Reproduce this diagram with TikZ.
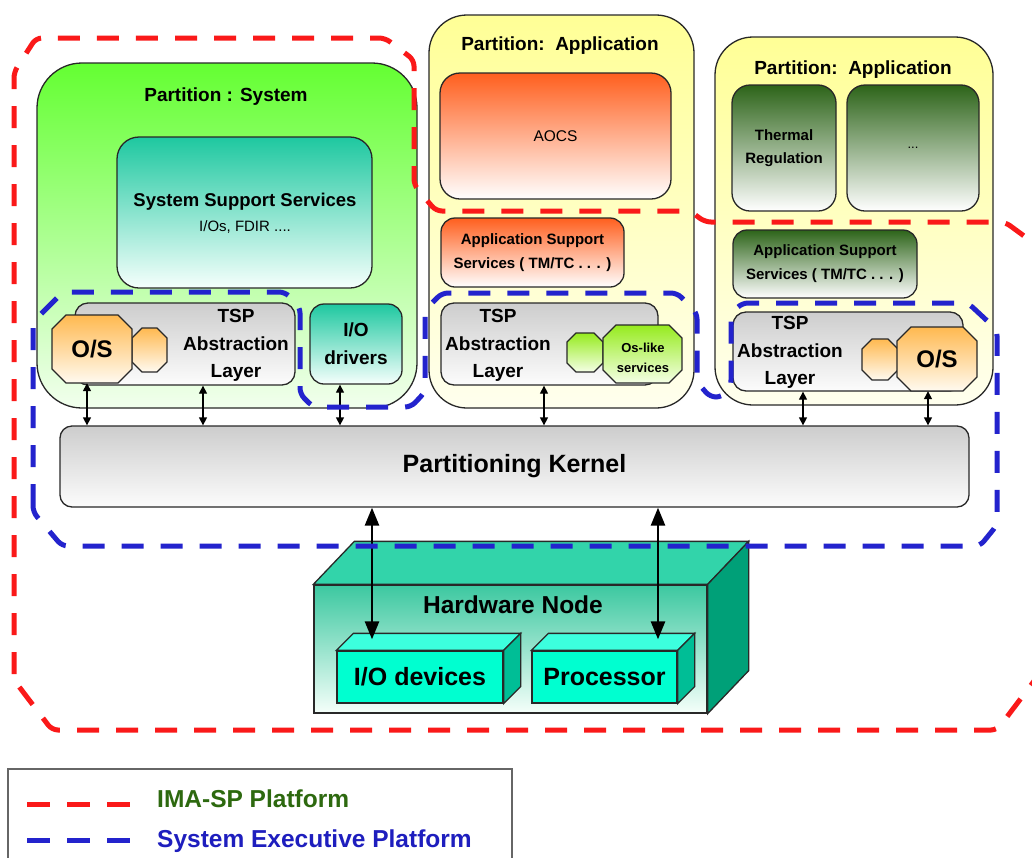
\documentclass[tikz,border=0pt]{standalone}
\usepackage{fontspec}
\setmainfont{Liberation Sans}
\usetikzlibrary{arrows.meta,calc}
\definecolor{imared}{RGB}{250,25,25}
\definecolor{seblue}{RGB}{35,35,205}
\definecolor{imatxt}{RGB}{45,105,15}
\definecolor{setxt}{RGB}{30,30,190}
\definecolor{sysT}{RGB}{100,255,50}
\definecolor{sysB}{RGB}{242,255,238}
\definecolor{yelT}{RGB}{255,255,150}
\definecolor{yelB}{RGB}{255,255,238}
\definecolor{tealT}{RGB}{30,200,160}
\definecolor{tealB}{RGB}{245,255,252}
\definecolor{greyT}{RGB}{205,205,205}
\definecolor{greyB}{RGB}{252,252,252}
\definecolor{osT}{RGB}{255,185,80}
\definecolor{osB}{RGB}{255,250,240}
\definecolor{aocsT}{RGB}{255,95,30}
\definecolor{oslT}{RGB}{150,235,30}
\definecolor{oslB}{RGB}{245,255,230}
\definecolor{dkgT}{RGB}{45,100,25}
\definecolor{hwT}{RGB}{60,200,160}
\definecolor{hwB}{RGB}{245,255,250}
\definecolor{hwtop}{RGB}{50,212,170}
\definecolor{hwright}{RGB}{0,160,120}
\definecolor{devfront}{RGB}{0,255,208}
\definecolor{devtop}{RGB}{60,255,222}
\definecolor{devright}{RGB}{0,190,150}
\definecolor{edge}{RGB}{40,40,40}
\newcommand\myoct[6]{\path[#6] (#1+#5,#2) -- (#3-#5,#2) -- (#3,#2+#5) -- (#3,#4-#5) -- (#3-#5,#4) -- (#1+#5,#4) -- (#1,#4-#5) -- (#1,#2+#5) -- cycle;}
\tikzset{
  bx/.style={draw=edge, line width=1.3pt, inner sep=0pt},
  sysbox/.style={bx, top color=sysT, bottom color=sysB},
  yelbox/.style={bx, top color=yelT, bottom color=yelB},
  tealbox/.style={bx, top color=tealT, bottom color=tealB},
  greybox/.style={bx, top color=greyT, bottom color=greyB, rounded corners=13pt},
  orbox/.style={bx, top color=aocsT, bottom color=white},
  dgbox/.style={bx, top color=dkgT, bottom color=white},
  osshape/.style={draw=edge, line width=1.2pt, top color=osT, bottom color=osB},
  oslshape/.style={draw=edge, line width=1.2pt, top color=oslT, bottom color=oslB},
  ttl/.style={font=\fontsize{19}{22}\selectfont\bfseries},
  tsptxt/.style={font=\fontsize{19}{27.5}\selectfont\bfseries, align=center, inner sep=0pt},
  asstxt/.style={font=\fontsize{15}{24}\selectfont\bfseries, align=center},
  sarr/.style={line width=1.3pt, draw=black, {Triangle[length=8pt,width=8pt]}-{Triangle[length=8pt,width=8pt]}},
  barr/.style={line width=2.6pt, draw=black, {Triangle[length=18pt,width=14pt]}-{Triangle[length=18pt,width=14pt]}},
  imadash/.style={draw=imared, line width=5pt, dash pattern=on 22pt off 17pt, rounded corners=6pt},
  sedash/.style={draw=seblue, line width=5pt, dash pattern=on 22pt off 17pt, rounded corners=6pt},
  legdash/.style={line width=5pt, dash pattern=on 23pt off 17pt},
  legtxt/.style={anchor=west, font=\fontsize{24.5}{28}\selectfont\bfseries, inner sep=0pt},
}
\begin{document}
\begin{tikzpicture}[x=1pt,y=-1pt]
\useasboundingbox (0,0) rectangle (1032,857);
\fill[white] (0,0) rectangle (1032,857);
\clip (0,0) rectangle (1032,857);

% ---------- partitions ----------
\node[sysbox, rounded corners=45pt, minimum width=380pt, minimum height=345pt] (psys) at (227,235.5) {};
\node[yelbox, rounded corners=38pt, minimum width=265pt, minimum height=393pt] (papp1) at (561.5,211.5) {};
\node[yelbox, rounded corners=38pt, minimum width=278pt, minimum height=368pt] (papp2) at (854,221) {};
\node[ttl] (tsys) at (226,97) {Partition : System};
\node[ttl] (tapp1) at (560,46) {Partition:~~Application};
\node[ttl] (tapp2) at (853,70) {Partition:~~Application};

% ---------- system partition content ----------
\node[tealbox, rounded corners=22pt, minimum width=255pt, minimum height=151pt] (sss) at (244.5,212.5) {};
\node[font=\fontsize{18.5}{22}\selectfont\bfseries] (ssst) at (245,202) {System Support Services};
\node[font=\fontsize{15}{18}\selectfont] (sssub) at (245,227) {I/Os, FDIR ....};
\node[greybox, minimum width=220pt, minimum height=82pt] (tsp1) at (185,344) {};
\myoct{132}{328}{167}{372}{10}{osshape}
\myoct{52}{315}{132}{383}{14}{osshape}
\node[font=\fontsize{24}{28}\selectfont\bfseries, minimum width=80pt, minimum height=68pt, inner sep=0pt] (os1) at (92,349) {O/S};
\node[tsptxt] (tsp1t) at (236,345.5) {TSP\\Abstraction\\Layer};
\node[tealbox, rounded corners=14pt, minimum width=92pt, minimum height=80pt, font=\fontsize{19}{28}\selectfont\bfseries, align=center] (iodrv) at (356,344) {I/O\\drivers};

% ---------- application partition 1 ----------
\node[orbox, rounded corners=20pt, minimum width=231pt, minimum height=126pt, font=\fontsize{15.5}{18}\selectfont] (aocs) at (555.5,136) {AOCS};
\node[orbox, rounded corners=14pt, minimum width=183pt, minimum height=69pt, asstxt] (ass1) at (532.5,252.5) {Application Support\\Services ( TM/TC . . . )};
\node[greybox, minimum width=217pt, minimum height=82pt] (tsp2) at (549.5,344) {};
\node[tsptxt] (tsp2t) at (498,345.5) {TSP\\Abstraction\\Layer};
\myoct{567}{333}{603}{372}{9}{oslshape}
\myoct{603}{325}{682}{383}{13}{oslshape}
\node[font=\fontsize{13}{20}\selectfont\bfseries, align=center, inner sep=0pt] (oslike) at (643,358) {Os-like\\services};

% ---------- application partition 2 ----------
\node[dgbox, rounded corners=18pt, minimum width=104pt, minimum height=126pt, font=\fontsize{15}{23}\selectfont\bfseries, align=center] (therm) at (784,148) {Thermal\\Regulation};
\node[dgbox, rounded corners=18pt, minimum width=132pt, minimum height=126pt, font=\fontsize{13}{16}\selectfont] (dots) at (913,148) {...};
\node[dgbox, rounded corners=14pt, minimum width=184pt, minimum height=68pt, asstxt] (ass2) at (825,264) {Application Support\\Services ( TM/TC . . . )};
\node[greybox, minimum width=230pt, minimum height=79pt] (tsp3) at (848,351.5) {};
\node[tsptxt] (tsp3t) at (790,352.5) {TSP\\Abstraction\\Layer};
\myoct{862}{339}{898}{380}{10}{osshape}
\myoct{897}{327}{977}{391}{14}{osshape}
\node[font=\fontsize{24}{28}\selectfont\bfseries, minimum width=80pt, minimum height=64pt, inner sep=0pt] (os3) at (937,359) {O/S};

% ---------- kernel ----------
\node[greybox, rounded corners=12pt, minimum width=909pt, minimum height=81pt, font=\fontsize{25}{30}\selectfont\bfseries] (kernel) at (514.5,466.5) {Partitioning Kernel};

% ---------- hardware node ----------
\node[bx, top color=hwT, bottom color=hwB, minimum width=393pt, minimum height=128pt] (hw) at (510.5,649) {};
\path[draw=edge, line width=1.3pt, fill=hwtop] (hw.north west) -- ++(41pt,43pt) -- ([shift={(41pt,43pt)}]hw.north east) -- (hw.north east) -- cycle;
\path[draw=edge, line width=1.3pt, fill=hwright] (hw.north east) -- ++(41pt,43pt) -- ([shift={(41pt,43pt)}]hw.south east) -- (hw.south east) -- cycle;
\node[font=\fontsize{24.5}{28}\selectfont\bfseries] (hwt) at (513,605) {Hardware Node};

\node[bx, fill=devfront, minimum width=166pt, minimum height=52pt, font=\fontsize{25}{28}\selectfont\bfseries] (iodev) at (420,677) {I/O devices};
\path[draw=edge, line width=1.3pt, fill=devtop] (iodev.north west) -- ++(17pt,17pt) -- ([shift={(17pt,17pt)}]iodev.north east) -- (iodev.north east) -- cycle;
\path[draw=edge, line width=1.3pt, fill=devright] (iodev.north east) -- ++(17pt,17pt) -- ([shift={(17pt,17pt)}]iodev.south east) -- (iodev.south east) -- cycle;

\node[bx, fill=devfront, minimum width=145pt, minimum height=52pt, font=\fontsize{25}{28}\selectfont\bfseries] (proc) at (604.5,677) {Processor};
\path[draw=edge, line width=1.3pt, fill=devtop] (proc.north west) -- ++(17pt,17pt) -- ([shift={(17pt,17pt)}]proc.north east) -- (proc.north east) -- cycle;
\path[draw=edge, line width=1.3pt, fill=devright] (proc.north east) -- ++(17pt,17pt) -- ([shift={(17pt,17pt)}]proc.south east) -- (proc.south east) -- cycle;

% ---------- arrows ----------
\draw[sarr] ([xshift=-5pt]os1.south) -- ($(os1.south |- kernel.north)+(-5pt,0)$);
\draw[sarr] ([xshift=18pt]tsp1.south) -- ($(tsp1.south |- kernel.north)+(18pt,0)$);
\draw[sarr] ([xshift=-16pt]iodrv.south) -- ($(iodrv.south |- kernel.north)+(-16pt,0)$);
\draw[sarr] ([xshift=-5.5pt]tsp2.south) -- ($(tsp2.south |- kernel.north)+(-5.5pt,0)$);
\draw[sarr] ([xshift=-45pt]tsp3.south) -- ($(tsp3.south |- kernel.north)+(-45pt,0)$);
\draw[sarr] ([xshift=-9pt]os3.south) -- ($(os3.south |- kernel.north)+(-9pt,0)$);
\draw[barr] ($(iodev.north |- kernel.south)+(-48pt,0)$) -- ([shift={(-48pt,11pt)}]iodev.north);
\draw[barr] ($(proc.north |- kernel.south)+(53.5pt,0)$) -- ([shift={(53.5pt,11pt)}]proc.north);

% ---------- platforms ----------
\draw[imadash] (14,680) -- (14,72) -- (36,38) -- (385,38) -- (414,60) -- (414,185) -- (436,211) -- (690,211) -- (705,222) -- (1005,222) -- (1050,255) -- (1050,660) -- (997,730) -- (52,730) -- cycle;
\draw[sedash] (33,512) -- (33,322) -- (63,292) -- (285,292) -- (300,307) -- (300,394) -- (313,407) -- (411,407) -- (425,392) -- (425,310) -- (442,293) -- (677,293) -- (697,313) -- (697,382) -- (710,397) -- (722,397) -- (731,386) -- (731,314) -- (742,303) -- (968,303) -- (997,330) -- (997,525) -- (980,546) -- (62,546) -- cycle;

% ---------- legend ----------
\draw[draw=black!60, line width=1.3pt] (8,769) rectangle (512,880);
\coordinate (lr1) at (27,804);
\coordinate (lr2) at (130,804);
\coordinate (lb1) at (27,840);
\coordinate (lb2) at (130,840);
\draw[legdash, draw=imared] (lr1) -- (lr2);
\draw[legdash, draw=seblue] (lb1) -- (lb2);
\node[legtxt, text=imatxt] (legima) at (157,799) {IMA-SP Platform};
\node[legtxt, text=setxt] (legse) at (157,841) {System Executive Platform};
\end{tikzpicture}
\end{document}
